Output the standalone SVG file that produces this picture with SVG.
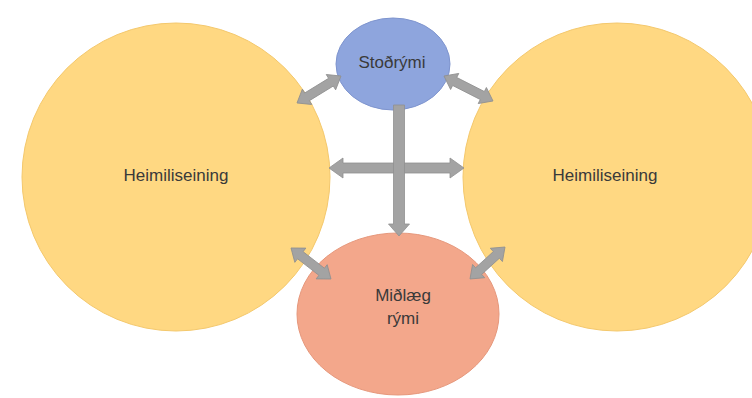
<svg xmlns="http://www.w3.org/2000/svg" width="752" height="398" viewBox="0 0 752 398">
<defs>
<style>
.yel{fill:#FFD882;stroke:#F4C86C;stroke-width:1}
.blu{fill:#8EA5DD;stroke:#7E94CE;stroke-width:1}
.sal{fill:#F3A78B;stroke:#E6977B;stroke-width:1}
.lbl{font-family:"Liberation Sans",Arial,sans-serif;font-size:17px;fill:#3A3A3A;text-anchor:middle}
.arr{fill:#A3A3A3;stroke:#909090;stroke-width:0.8}
</style>
</defs>
<rect width="752" height="398" fill="#FFFFFF"/>
<g id="home-left">
<circle class="yel" cx="176" cy="177" r="154"/>
<text class="lbl" x="176" y="181">Heimiliseining</text>
</g>
<g id="home-right">
<circle class="yel" cx="617" cy="177" r="154"/>
<text class="lbl" x="605" y="181">Heimiliseining</text>
</g>
<g id="support">
<ellipse class="blu" cx="393" cy="64" rx="57" ry="46"/>
<text class="lbl" x="392" y="68">Stoðrými</text>
</g>
<g id="central">
<ellipse class="sal" cx="398" cy="314" rx="101" ry="81"/>
<text class="lbl" x="403" y="301">Miðlæg</text>
<text class="lbl" x="403" y="324">rými</text>
</g>
<g id="connectors">
<g transform="translate(396.5,168)"><path class="arr" d="M-67.5 0 L-53.5 -10 L-53.5 -5 L53.5 -5 L53.5 -10 L67.5 0 L53.5 10 L53.5 5 L-53.5 5 L-53.5 10 Z"/></g>
<g transform="translate(399,170.5) rotate(90)"><path class="arr" d="M-65.5 -5.5 L53.5 -5.5 L53.5 -10.5 L65.5 0 L53.5 10.5 L53.5 5.5 L-65.5 5.5 Z"/></g>
<g transform="translate(319,89.5) rotate(-31.5)"><path class="arr" d="M-25.8 0 L-14 -9 L-14 -4.5 L14 -4.5 L14 -9 L25.8 0 L14 9 L14 4.5 L-14 4.5 L-14 9 Z"/></g>
<g transform="translate(468.5,88.5) rotate(27)"><path class="arr" d="M-27.5 0 L-15.5 -9 L-15.5 -4.5 L15.5 -4.5 L15.5 -9 L27.5 0 L15.5 9 L15.5 4.5 L-15.5 4.5 L-15.5 9 Z"/></g>
<g transform="translate(311,263.5) rotate(37.8)"><path class="arr" d="M-25.3 0 L-13.5 -9 L-13.5 -4.5 L13.5 -4.5 L13.5 -9 L25.3 0 L13.5 9 L13.5 4.5 L-13.5 4.5 L-13.5 9 Z"/></g>
<g transform="translate(487.5,263) rotate(-42.4)"><path class="arr" d="M-23.7 0 L-12 -9 L-12 -4.5 L12 -4.5 L12 -9 L23.7 0 L12 9 L12 4.5 L-12 4.5 L-12 9 Z"/></g>
</g>
</svg>
